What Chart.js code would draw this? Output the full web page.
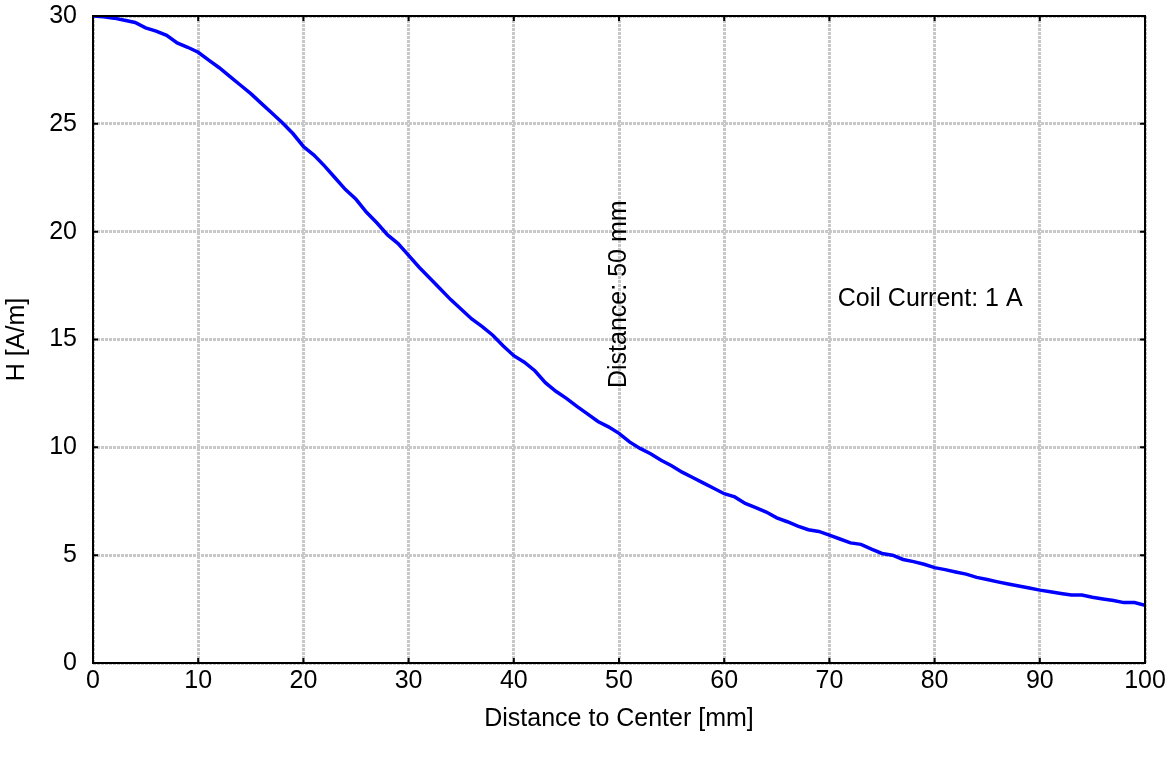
<!DOCTYPE html>
<html>
<head>
<meta charset="utf-8">
<script src="https://cdn.jsdelivr.net/npm/chart.js@4/dist/chart.umd.min.js"></script>
<style>
  html, body { margin: 0; padding: 0; background: #fff; }
  #wrap { width: 1174px; height: 760px; }
</style>
</head>
<body>
<div id="wrap"><canvas id="chart"></canvas></div>
<script>
// distance to center [mm]
const distance = [
  0, 1, 2, 3, 4, 5, 6, 7, 8, 9, 10, 11, 12, 13, 14, 15, 16, 17, 18, 19, 20,
  21, 22, 23, 24, 25, 26, 27, 28, 29, 30, 31, 32, 33, 34, 35, 36, 37, 38, 39, 40,
  41, 42, 43, 44, 45, 46, 47, 48, 49, 50, 51, 52, 53, 54, 55, 56, 57, 58, 59, 60,
  61, 62, 63, 64, 65, 66, 67, 68, 69, 70, 71, 72, 73, 74, 75, 76, 77, 78, 79, 80,
  81, 82, 83, 84, 85, 86, 87, 88, 89, 90, 91, 92, 93, 94, 95, 96, 97, 98, 99, 100
];
// field strength H [A/m]
const fieldH = [
  30.0, 29.97, 29.9, 29.8, 29.7, 29.45, 29.3, 29.1, 28.75, 28.55, 28.32,
  27.95, 27.6, 27.2, 26.8, 26.4, 25.95, 25.5, 25.05, 24.55, 23.95,
  23.55, 23.05, 22.5, 21.95, 21.5, 20.9, 20.4, 19.85, 19.45, 18.9,
  18.35, 17.85, 17.35, 16.85, 16.4, 15.95, 15.6, 15.2, 14.7, 14.25,
  13.95, 13.55, 13.0, 12.6, 12.27, 11.9, 11.55, 11.2, 10.95, 10.65,
  10.25, 9.95, 9.7, 9.4, 9.15, 8.85, 8.6, 8.35, 8.1, 7.85,
  7.7, 7.4, 7.2, 7.0, 6.73, 6.55, 6.35, 6.18, 6.1, 5.93,
  5.75, 5.57, 5.5, 5.28, 5.08, 5.0, 4.8, 4.7, 4.58, 4.42,
  4.33, 4.22, 4.12, 3.97, 3.87, 3.76, 3.66, 3.57, 3.48, 3.38,
  3.3, 3.22, 3.15, 3.15, 3.05, 2.97, 2.9, 2.8, 2.8, 2.68
];
const xTicks = [0, 10, 20, 30, 40, 50, 60, 70, 80, 90, 100];
const yTicks = [0, 5, 10, 15, 20, 25, 30];

// text notes, anchored in data units
const noteDistance = { text: 'Distance: 50 mm', x: 50, y: 17.1 };
const noteCurrent = { text: 'Coil Current: 1 A', x: 70.8, y: 16.85 };

const FONT = 'Arial, "Liberation Sans", sans-serif';
const FSIZE = 25;

// frame, inward ticks and the two text notes
const framePlugin = {
  id: 'frame',
  afterDatasetsDraw(chart) {
    const { ctx, chartArea: a, scales } = chart;
    ctx.save();
    ctx.strokeStyle = '#000';
    ctx.lineWidth = 2;
    ctx.strokeRect(a.left, a.top, a.right - a.left, a.bottom - a.top);
    ctx.beginPath();
    xTicks.forEach(v => {
      const px = scales.x.getPixelForValue(v);
      ctx.moveTo(px, a.bottom); ctx.lineTo(px, a.bottom - 5);
      ctx.moveTo(px, a.top); ctx.lineTo(px, a.top + 5);
    });
    yTicks.forEach(v => {
      const py = scales.y.getPixelForValue(v);
      ctx.moveTo(a.left, py); ctx.lineTo(a.left + 5, py);
      ctx.moveTo(a.right, py); ctx.lineTo(a.right - 5, py);
    });
    ctx.stroke();

    ctx.fillStyle = '#000';
    ctx.font = FSIZE + 'px ' + FONT;
    // vertical note
    ctx.save();
    ctx.translate(scales.x.getPixelForValue(noteDistance.x), scales.y.getPixelForValue(noteDistance.y));
    ctx.rotate(-Math.PI / 2);
    ctx.textAlign = 'center';
    ctx.textBaseline = 'middle';
    ctx.fillText(noteDistance.text, 0, 0);
    ctx.restore();
    // horizontal note
    ctx.textAlign = 'left';
    ctx.textBaseline = 'middle';
    ctx.fillText(noteCurrent.text, scales.x.getPixelForValue(noteCurrent.x), scales.y.getPixelForValue(noteCurrent.y));
    ctx.restore();
  }
};

new Chart(document.getElementById('chart'), {
  type: 'line',
  data: {
    datasets: [{
      data: distance.map((d, i) => ({ x: d, y: fieldH[i] })),
      borderColor: '#0000ff',
      borderWidth: 3.5,
      pointRadius: 0,
      tension: 0,
      fill: false
    }]
  },
  options: {
    responsive: true,
    maintainAspectRatio: false,
    animation: false,
    layout: { padding: { top: 16, right: 29, left: 0, bottom: 0 } },
    plugins: {
      legend: { display: false },
      tooltip: { enabled: false }
    },
    scales: {
      x: {
        type: 'linear',
        min: 0, max: 100,
        afterBuildTicks(scale) { scale.ticks = xTicks.map(v => ({ value: v })); },
        afterFit(scale) { scale.height = 97; },
        grid: { color: '#c8c8c8', lineWidth: 3, drawTicks: true, tickLength: 3, tickColor: 'rgba(0,0,0,0)' },
        border: { display: false, dash: [3, 1] },
        ticks: {
          color: '#000', padding: 0, maxRotation: 0,
          font: { family: FONT, size: FSIZE }
        },
        title: {
          display: true, text: 'Distance to Center [mm]', color: '#000',
          font: { family: FONT, size: FSIZE }, padding: { top: 0, bottom: 26 }
        }
      },
      y: {
        min: 0, max: 30,
        afterBuildTicks(scale) { scale.ticks = yTicks.map(v => ({ value: v })); },
        afterFit(scale) { scale.width = 93; },
        grid: { color: '#c8c8c8', lineWidth: 3, drawTicks: true, tickLength: 16, tickColor: 'rgba(0,0,0,0)' },
        border: { display: false, dash: [3, 1] },
        ticks: {
          color: '#000', padding: 0,
          font: { family: FONT, size: FSIZE }
        },
        title: {
          display: true, text: 'H [A/m]', color: '#000',
          font: { family: FONT, size: FSIZE }, padding: { top: 2, bottom: 0 }
        }
      }
    }
  },
  plugins: [framePlugin]
});
</script>
</body>
</html>
